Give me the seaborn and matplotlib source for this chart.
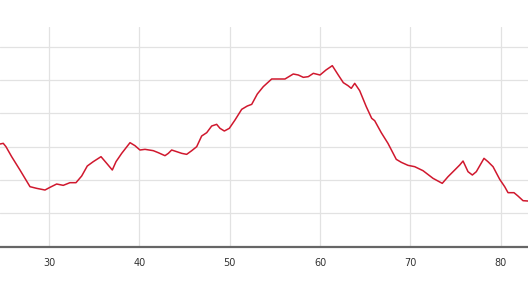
import matplotlib
matplotlib.use("Agg")
import matplotlib.pyplot as plt
import seaborn as sns
import pandas as pd

distance = [24.58, 24.94, 25.24, 25.87, 26.79, 27.90, 28.64, 29.56, 30.11, 30.85,
            31.58, 32.32, 32.99, 33.62, 34.24, 34.90, 35.76, 36.39, 37.01, 37.42,
            38.05, 38.97, 39.52, 40.07, 40.63, 41.55, 42.10, 42.84, 43.21, 43.58,
            44.14, 44.69, 45.24, 45.80, 46.35, 46.90, 47.46, 48.01, 48.56, 48.93,
            49.41, 49.96, 50.59, 51.33, 51.95, 52.44, 53.06, 53.72, 54.65, 55.38,
            56.12, 57.04, 57.60, 58.15, 58.70, 59.26, 60.00, 60.66, 61.36, 62.02,
            62.58, 63.10, 63.46, 63.84, 64.39, 65.12, 65.72, 66.05, 66.78, 67.52,
            68.44, 69.00, 69.74, 70.48, 71.40, 72.51, 73.53, 74.17, 74.91, 75.46,
            75.83, 76.38, 76.86, 77.30, 78.15, 78.59, 79.15, 79.89, 80.44, 80.81,
            81.47, 81.91, 82.47, 83.02]
elevation = [308, 310, 300, 270, 230, 180, 175, 170, 178, 188,
             184, 192, 192, 212, 242, 255, 270, 250, 230, 255,
             280, 312, 303, 290, 292, 288, 282, 273, 280, 290,
             285, 280, 277, 288, 300, 332, 342, 362, 367, 355,
             347, 355, 380, 412, 422, 427, 458, 480, 503, 503,
             503, 518, 515, 508, 510, 520, 515, 530, 543, 515,
             492, 483, 475, 490, 468, 420, 385, 378, 342, 310,
             262, 253, 244, 240, 228, 205, 190, 210, 230, 245,
             257, 225, 215, 225, 265, 255, 240, 202, 180, 162,
             162, 152, 138, 137]
x_ticks = [30, 40, 50, 60, 70, 80]
y_grid = [0, 100, 200, 300, 400, 500, 600]

df = pd.DataFrame({"distance": distance, "elevation": elevation})

sns.set_style("white")
fig = plt.figure(figsize=(5.28, 2.97), dpi=100)
ax = fig.add_axes([0.0, 0.1694, 1.0, 0.7397])

sns.lineplot(data=df, x="distance", y="elevation", ax=ax,
             color="#d0182e", linewidth=1.1)

ax.set_xlim(24.58, 83.02)
ax.set_ylim(0, 659)
ax.set_xticks(x_ticks)
ax.set_xticklabels([str(t) for t in x_ticks])
ax.set_yticks(y_grid)
ax.set_yticklabels([])
ax.tick_params(axis="y", length=0)
ax.grid(True, color="#e2e2e2", linewidth=0.9)
ax.set_axisbelow(True)
for s in ["left", "right", "top"]:
    ax.spines[s].set_visible(False)
ax.spines["bottom"].set_color("#666666")
ax.spines["bottom"].set_linewidth(1.6)
ax.tick_params(axis="x", direction="inout", length=6.5, width=1.1,
               color="#333333", labelsize=7, labelcolor="#333333", pad=5)
ax.set_xlabel("")
ax.set_ylabel("")

fig.savefig("out.png", dpi=100)
